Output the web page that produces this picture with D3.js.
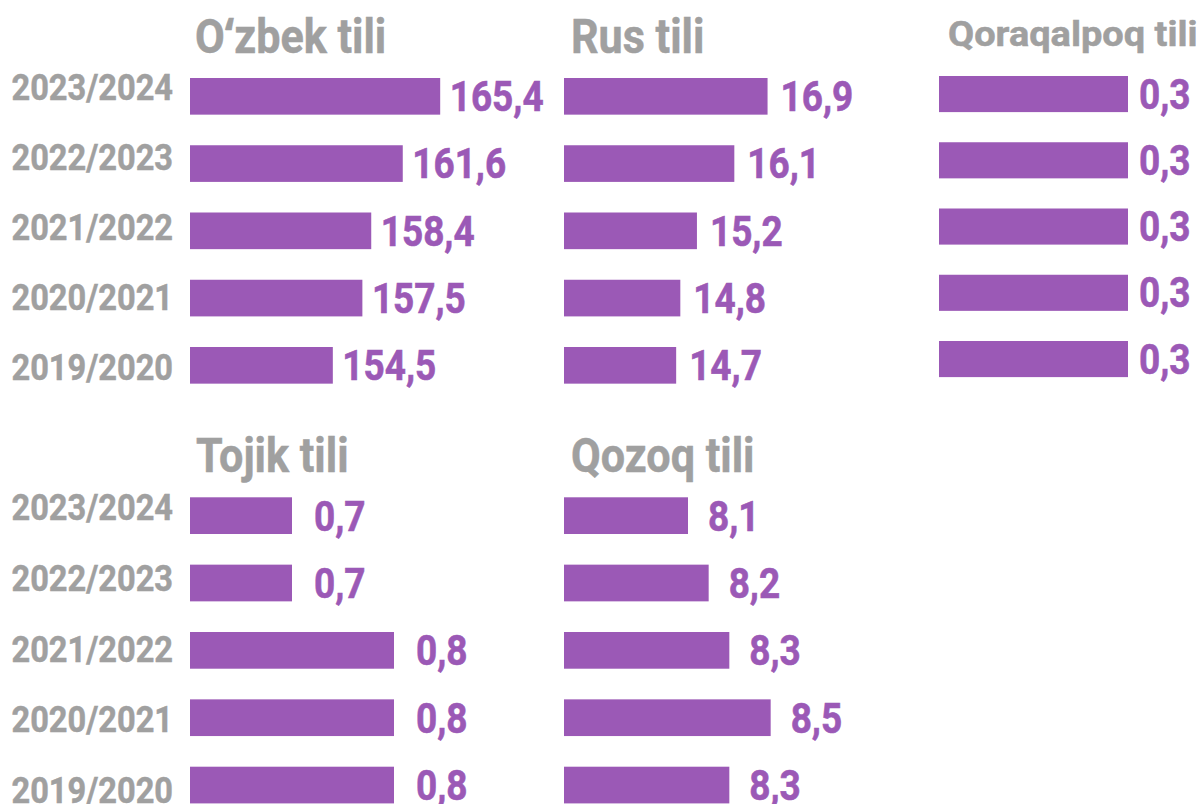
<!DOCTYPE html>
<html>
<head>
<meta charset="utf-8">
<script src="https://cdn.jsdelivr.net/npm/d3@7/dist/d3.min.js"></script>
<style>
  html, body { margin: 0; padding: 0; background: #ffffff; }
  svg { display: block; }
  text { font-family: Roboto, "Noto Sans", sans-serif; font-weight: 700; }
</style>
</head>
<body>
<svg id="chart" width="1202" height="804"></svg>
<script>
// ---- data ----
const years = ["2023/2024", "2022/2023", "2021/2022", "2020/2021", "2019/2020"];
const titles = ["Oʻzbek tili", "Rus tili", "Qoraqalpoq tili", "Tojik tili", "Qozoq tili"];
const uzbek = [165.4, 161.6, 158.4, 157.5, 154.5];
const russian = [16.9, 16.1, 15.2, 14.8, 14.7];
const karakalpak = [0.3, 0.3, 0.3, 0.3, 0.3];
const tajik = [0.7, 0.7, 0.8, 0.8, 0.8];
const kazakh = [8.1, 8.2, 8.3, 8.5, 8.3];

// ---- layout / style ----
const W = 1202, H = 804;
const PURPLE = "#9b59b6";
const GRAY = "#a0a0a0";
const CONDENSE = 0.88;
const PAD_INNER = 0.455;

const panels = [
  { title: titles[0], values: uzbek,      domain: [140, 170], x0: 190, width: 295.5, barTop: 78,    step: 67.25, titleX: 195, titleY: 53,    titleSize: 49, titleScale: CONDENSE, gap: 9.5 },
  { title: titles[1], values: russian,    domain: [12, 19],   x0: 564, width: 290.8, barTop: 78,    step: 67.25, titleX: 571, titleY: 52.5,  titleSize: 49, titleScale: CONDENSE, gap: 13 },
  { title: titles[2], values: karakalpak, domain: [0, 0.3],   x0: 939, width: 189,   barTop: 76,    step: 66.25, titleX: 948, titleY: 46,    titleSize: 35, titleScale: 1.085,    gap: 11 },
  { title: titles[3], values: tajik,      domain: [0.6, 0.9], x0: 190, width: 306,   barTop: 497.3, step: 67.35, titleX: 196, titleY: 471.7, titleSize: 49, titleScale: CONDENSE, gap: 22 },
  { title: titles[4], values: kazakh,     domain: [7.5, 9],   x0: 564, width: 310,   barTop: 497.3, step: 67.35, titleX: 571, titleY: 471.7, titleSize: 49, titleScale: CONDENSE, gap: 20 }
];

// year-label axes (left side, one per row of panels)
const yearAxes = [
  { x: 173, firstBaseline: 100, step: 70 },
  { x: 173, firstBaseline: 520, step: 70.8 }
];

const fmt = d3.formatLocale({ decimal: ",", thousands: " ", grouping: [3], currency: ["", ""] }).format(".1f");

const svg = d3.select("#chart");
svg.append("rect").attr("width", W).attr("height", H).attr("fill", "#ffffff");

panels.forEach(p => {
  const g = svg.append("g");
  const x = d3.scaleLinear().domain(p.domain).range([p.x0, p.x0 + p.width]);
  const r0 = p.barTop - p.step * PAD_INNER / 2;
  const y = d3.scaleBand().domain(years).range([r0, r0 + p.step * years.length])
    .paddingInner(PAD_INNER).paddingOuter(PAD_INNER / 2);

  const rows = years.map((yr, i) => ({ year: yr, value: p.values[i] }));

  g.selectAll("rect.bar").data(rows).join("rect")
    .attr("class", "bar")
    .attr("x", x(p.domain[0]))
    .attr("y", d => y(d.year))
    .attr("width", d => x(d.value) - x(p.domain[0]))
    .attr("height", y.bandwidth())
    .attr("fill", PURPLE);

  g.selectAll("text.val").data(rows).join("text")
    .attr("class", "val")
    .attr("transform", d => `translate(${x(d.value) + p.gap},${y(d.year) + y.bandwidth() - 3.5}) scale(${CONDENSE},1)`)
    .attr("fill", PURPLE)
    .attr("stroke", PURPLE)
    .attr("stroke-width", 0.6)
    .attr("font-size", 42)
    .attr("text-anchor", "start")
    .text(d => fmt(d.value));

  g.append("text")
    .attr("transform", `translate(${p.titleX},${p.titleY}) scale(${p.titleScale},1)`)
    .attr("fill", GRAY)
    .attr("stroke", GRAY)
    .attr("stroke-width", 0.5)
    .attr("font-size", p.titleSize)
    .text(p.title);
});

yearAxes.forEach(a => {
  const c0 = a.firstBaseline - a.step / 2;
  const yl = d3.scaleBand().domain(years).range([c0, c0 + a.step * years.length]);
  const axis = d3.axisLeft(yl).tickSize(0).tickPadding(0);
  const ag = svg.append("g").attr("transform", `translate(${a.x},0)`).call(axis);
  ag.select(".domain").remove();
  ag.selectAll(".tick text")
    .attr("dy", null)
    .attr("x", 0)
    .attr("fill", GRAY)
    .attr("stroke", GRAY)
    .attr("stroke-width", 0.5)
    .attr("font-size", 37)
    .attr("font-family", "Roboto, 'Noto Sans', sans-serif")
    .attr("font-weight", 700)
    .attr("transform", `scale(${CONDENSE},1)`);
});
</script>
</body>
</html>
